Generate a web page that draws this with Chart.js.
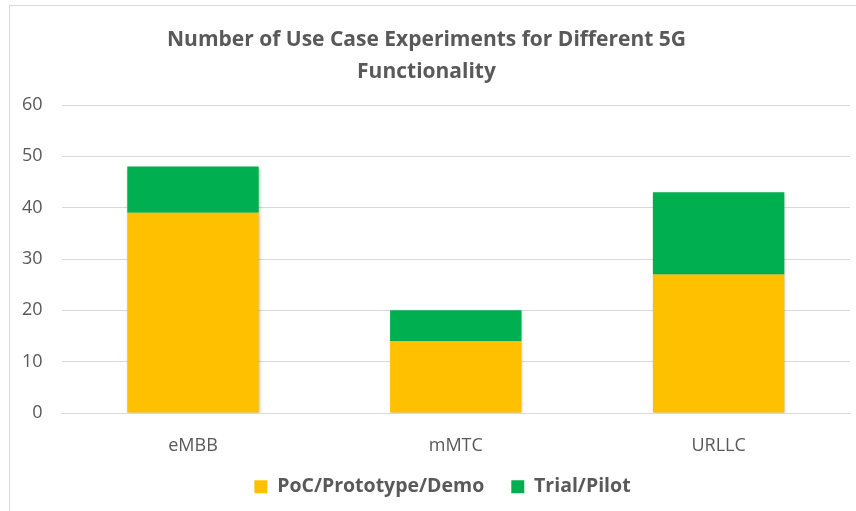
<!DOCTYPE html>
<html lang="en">
  <head>
    <meta charset="UTF-8" />
    <title>Number of Use Case Experiments for Different 5G Functionality</title>
    <script src="https://cdn.jsdelivr.net/npm/chart.js"></script>
    <style>
      body { margin: 0; background: #fff; }
      #wrap { position: relative; width: 856px; height: 511px; }
    </style>
  </head>
  <body>
    <div id="wrap">
      <canvas id="useCaseChart" width="856" height="511"></canvas>
    </div>
    <script>
      // Datos
      const categories = ["eMBB", "mMTC", "URLLC"];
      const pocDemo = [39, 14, 27];
      const trialPilot = [9, 6, 16];
      const yTicks = [0, 10, 20, 30, 40, 50, 60];

      const textColor = "#595959";
      const fontFamily = "'Open Sans', Lato, sans-serif";

      // Marco gris claro alrededor del gráfico
      const framePlugin = {
        id: "frame",
        beforeDraw(chart) {
          const c = chart.ctx;
          c.save();
          c.fillStyle = "#fff";
          c.fillRect(0, 0, chart.width, chart.height);
          c.strokeStyle = "#d9d9d9";
          c.lineWidth = 1;
          c.strokeRect(9.5, 5.5, chart.width + 10, chart.height + 10);
          c.restore();
        },
      };

      // Sombra suave de las barras
      const shadowPlugin = {
        id: "barShadow",
        beforeDatasetsDraw(chart) {
          const c = chart.ctx;
          c.save();
          c.shadowColor = "rgba(0,0,0,0.25)";
          c.shadowBlur = 3;
          c.shadowOffsetX = 1;
          c.shadowOffsetY = 1;
        },
        afterDatasetsDraw(chart) {
          chart.ctx.restore();
        },
      };

      // La leyenda del original está un poco desplazada (derecha y arriba)
      const legendShift = {
        id: "legendShift",
        afterLayout(chart) {
          const lg = chart.legend;
          lg.left += 16;
          lg.right += 16;
          lg.top -= 17;
          lg.bottom = chart.height;
          lg.height = lg.bottom - lg.top;
        },
      };

      const ctx = document.getElementById("useCaseChart").getContext("2d");
      new Chart(ctx, {
        type: "bar",
        data: {
          labels: categories,
          datasets: [
            {
              label: "PoC/Prototype/Demo",
              data: pocDemo,
              backgroundColor: "#ffc000",
              categoryPercentage: 1,
              barPercentage: 0.5,
            },
            {
              label: "Trial/Pilot",
              data: trialPilot,
              backgroundColor: "#00b050",
              categoryPercentage: 1,
              barPercentage: 0.5,
            },
          ],
        },
        options: {
          responsive: false,
          animation: false,
          layout: { padding: { left: 3, right: 6, top: 10, bottom: 4 } },
          plugins: {
            title: {
              display: true,
              text: ["Number of Use Case Experiments for Different 5G", "Functionality"],
              color: textColor,
              font: { family: fontFamily, size: 21, weight: "bold", lineHeight: 32 / 21 },
              padding: { top: 14, bottom: 17 },
            },
            legend: {
              position: "bottom",
              maxHeight: 40,
              labels: {
                color: textColor,
                font: { family: fontFamily, size: 19.5, weight: "bold" },
                boxWidth: 13,
                boxHeight: 13,
                padding: 27,
              },
            },
            tooltip: { enabled: false },
          },
          scales: {
            x: {
              stacked: true,
              grid: { display: false },
              border: { color: "#d9d9d9" },
              ticks: { color: textColor, font: { family: fontFamily, size: 18 }, padding: 14 },
              afterFit(axis) {
                axis.height = 54;
              },
            },
            y: {
              stacked: true,
              min: 0,
              max: 60,
              afterBuildTicks(axis) {
                axis.ticks = yTicks.map((v) => ({ value: v }));
              },
              grid: { color: "#d9d9d9", drawTicks: false },
              border: { display: false },
              ticks: { color: textColor, font: { family: fontFamily, size: 18 }, padding: 19 },
            },
          },
        },
        plugins: [framePlugin, shadowPlugin, legendShift],
      });
    </script>
  </body>
</html>
